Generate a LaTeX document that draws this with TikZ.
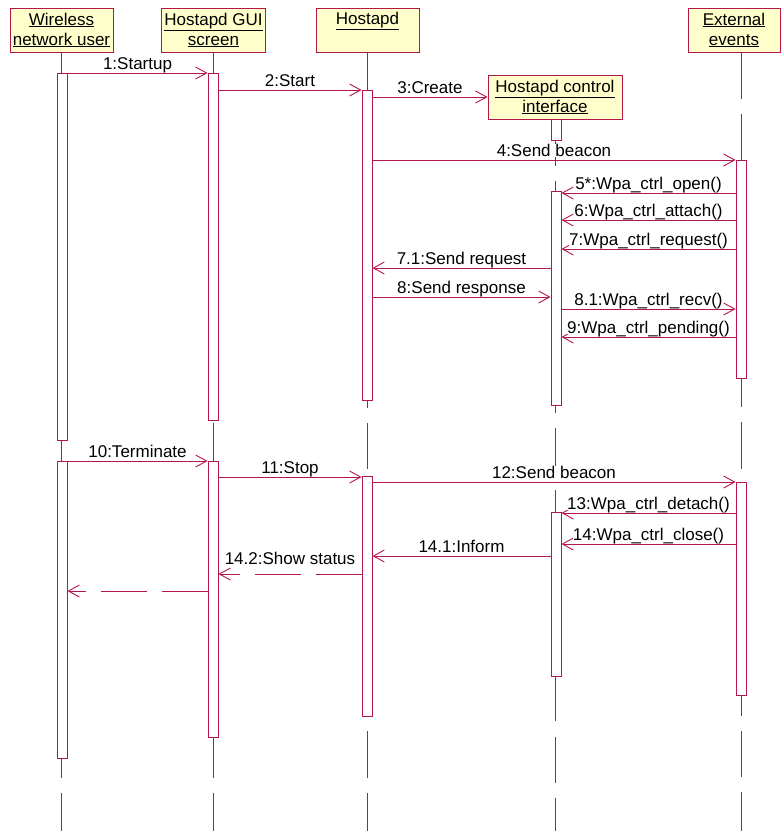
\documentclass[tikz,border=0pt]{standalone}
\usepackage{fontspec}
\setmainfont{Liberation Sans}
\usetikzlibrary{positioning,arrows.meta,fit}

\definecolor{umlred}{RGB}{181,22,72}
\definecolor{umlyellow}{RGB}{255,255,204}

\tikzset{
  obj/.style={draw=umlred, line width=1pt, fill=umlyellow, align=center, inner sep=0pt, minimum height=44pt},
  life/.style={draw=black!70, line width=0.9pt, dash pattern=on 46.5pt off 15.2pt},
  act/.style={draw=umlred, line width=0.9pt, fill=white, inner sep=0pt, minimum width=10pt},
  msg/.style={draw=umlred, line width=0.9pt, -{Straight Barb[length=11pt,width=12pt]}},
  ret/.style={msg, dash pattern=on 46pt off 15pt},
  lbl/.style={midway, anchor=south, yshift=3pt, fill=white, inner sep=0pt, text depth=0pt}
}

\begin{document}
\begin{tikzpicture}[x=1pt, y=-1pt, every node/.style={font=\fontsize{17}{20}\selectfont}]
  \useasboundingbox (0,0) rectangle (781,831);

  % objects
  \node[obj, minimum width=103pt] (user) at (61.5,30) {\underline{Wireless}\\\underline{network user}};
  \node[obj, minimum width=104pt] (gui) at (213.5,30) {\underline{Hostapd GUI}\\\underline{screen}};
  \node[obj, minimum width=103pt] (hostapd) at (367.5,30) {\underline{Hostapd}\\\phantom{Hostapd}};
  \node[obj, minimum width=134pt] (ctrl) at (555,97) {\underline{Hostapd control}\\\underline{interface}};
  \node[obj, minimum width=92pt] (ext) at (734,30) {\underline{External}\\\underline{events}};
  \coordinate (extline) at (741,52);

  % lifelines
  \draw[life] (user.south) -- (user.south |- 0,831);
  \draw[life] (gui.south) -- (gui.south |- 0,831);
  \draw[life] (hostapd.south) -- (hostapd.south |- 0,831);
  \draw[life] (ctrl.south) -- (ctrl.south |- 0,831);
  \draw[life] (extline) -- (extline |- 0,831);

  % activations
  \node[act, fit={(62,73) (62,440)}] (userA1) {};
  \node[act, fit={(62,461) (62,758)}] (userA2) {};
  \node[act, fit={(213,73) (213,420)}] (guiA1) {};
  \node[act, fit={(213,461) (213,737)}] (guiA2) {};
  \node[act, fit={(367,90) (367,400)}] (hostA1) {};
  \node[act, fit={(367,476) (367,716)}] (hostA2) {};
  \node[act, fit={(556,119) (556,140)}] (ctrlA0) {};
  \node[act, fit={(556,191) (556,405)}] (ctrlA1) {};
  \node[act, fit={(556,512) (556,676)}] (ctrlA2) {};
  \node[act, fit={(741,160) (741,378)}] (extA1) {};
  \node[act, fit={(741,482) (741,695)}] (extA2) {};

  % first run
  \draw[msg] (userA1.east |- 0,73) -- node[lbl] {1:Startup} (guiA1.west |- 0,73);
  \draw[msg] (guiA1.east |- 0,90) -- node[lbl] {2:Start} (hostA1.west |- 0,90);
  \draw[msg] (hostA1.east |- ctrl.west) -- node[lbl] {3:Create} (ctrl.west);
  \draw[msg] (hostA1.east |- 0,160) -- node[lbl] {4:Send beacon} (extA1.west |- 0,160);
  \draw[msg] (extA1.west |- 0,193) -- node[lbl] {5*:Wpa\_ctrl\_open()} (ctrlA1.east |- 0,193);
  \draw[msg] (extA1.west |- 0,220) -- node[lbl] {6:Wpa\_ctrl\_attach()} (ctrlA1.east |- 0,220);
  \draw[msg] (extA1.west |- 0,249) -- node[lbl] {7:Wpa\_ctrl\_request()} (ctrlA1.east |- 0,249);
  \draw[msg] (ctrlA1.west |- 0,268) -- node[lbl] {7.1:Send request} (hostA1.east |- 0,268);
  \draw[msg] (hostA1.east |- 0,297) -- node[lbl] {8:Send response} (ctrlA1.west |- 0,297);
  \draw[msg] (ctrlA1.east |- 0,309) -- node[lbl] {8.1:Wpa\_ctrl\_recv()} (extA1.west |- 0,309);
  \draw[msg] (extA1.west |- 0,337) -- node[lbl] {9:Wpa\_ctrl\_pending()} (ctrlA1.east |- 0,337);

  % shutdown
  \draw[msg] (userA2.east |- 0,461) -- node[lbl] {10:Terminate} (guiA2.west |- 0,461);
  \draw[msg] (guiA2.east |- 0,477) -- node[lbl] {11:Stop} (hostA2.west |- 0,477);
  \draw[msg] (hostA2.east |- 0,482) -- node[lbl] {12:Send beacon} (extA2.west |- 0,482);
  \draw[msg] (extA2.west |- 0,513) -- node[lbl] {13:Wpa\_ctrl\_detach()} (ctrlA2.east |- 0,513);
  \draw[msg] (extA2.west |- 0,544) -- node[lbl] {14:Wpa\_ctrl\_close()} (ctrlA2.east |- 0,544);
  \draw[msg] (ctrlA2.west |- 0,556) -- node[lbl] {14.1:Inform} (hostA2.east |- 0,556);
  \draw[ret] (hostA2.west |- 0,574) -- node[lbl, yshift=6pt] {14.2:Show status} (guiA2.east |- 0,574);
  \draw[ret] (guiA2.west |- 0,591) -- (userA2.east |- 0,591);
\end{tikzpicture}
\end{document}
